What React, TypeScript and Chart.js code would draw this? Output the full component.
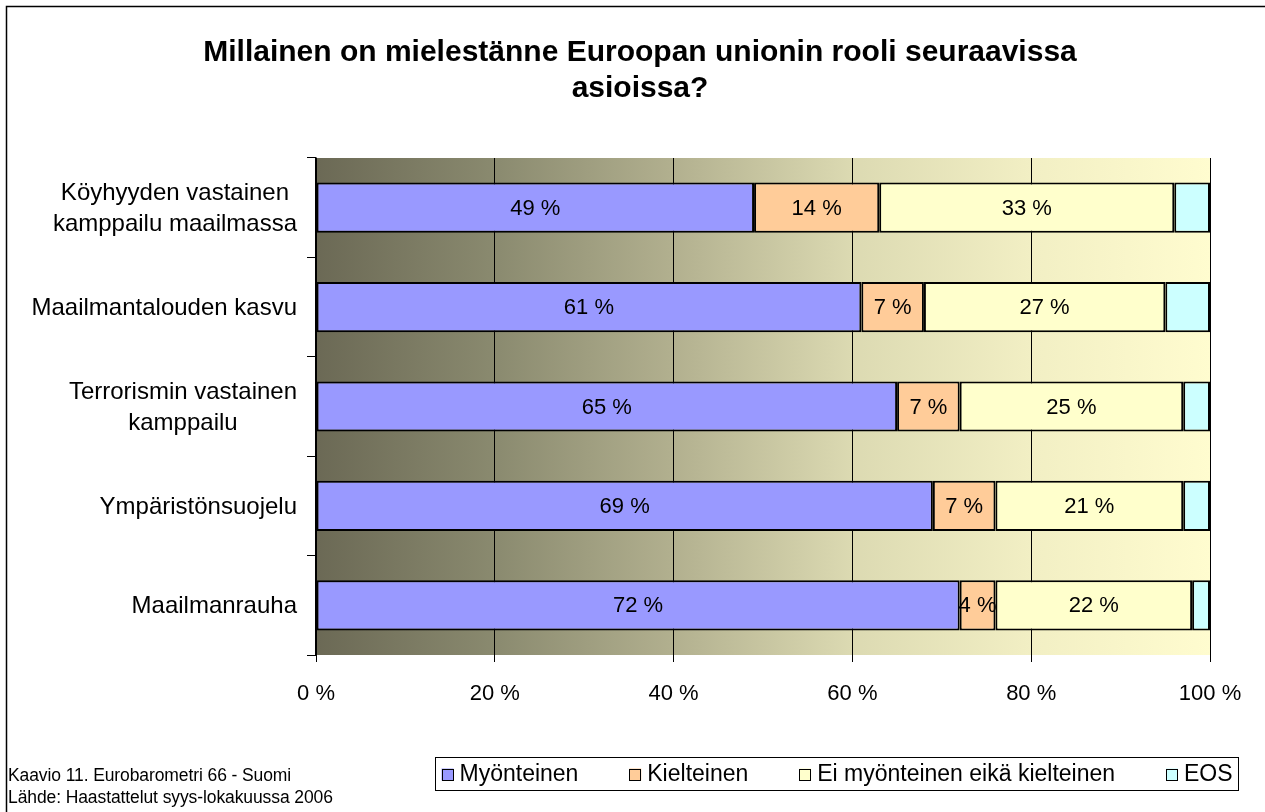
import React, { useEffect, useRef } from 'react';
import { Chart, registerables } from 'chart.js';

Chart.register(...registerables);

const categories: (string | string[])[] = [
  ['Köyhyyden vastainen', 'kamppailu maailmassa'],
  'Maailmantalouden kasvu',
  ['Terrorismin vastainen', 'kamppailu'],
  'Ympäristönsuojelu',
  'Maailmanrauha',
];
const seriesNames = ['Myönteinen', 'Kielteinen', 'Ei myönteinen eikä kielteinen', 'EOS'];
const positive = [49, 61, 65, 69, 72];
const negative = [14, 7, 7, 7, 4];
const neutral = [33, 27, 25, 21, 22];
const dontKnow = [4, 5, 3, 3, 2];
const seriesColors = ['#9999ff', '#ffcc99', '#ffffcc', '#ccffff'];
const titleLines = ['Millainen on mielestänne Euroopan unionin rooli seuraavissa', 'asioissa?'];
const footnotes = ['Kaavio 11. Eurobarometri 66 - Suomi', 'Lähde: Haastattelut syys-lokakuussa 2006'];

const FONT = '"Liberation Sans", Arial, sans-serif';

const bgPlugin = {
  id: 'bgPlugin',
  beforeDraw(chart: any) {
    const { ctx, chartArea: a } = chart;
    ctx.save();
    ctx.fillStyle = '#ffffff';
    ctx.fillRect(0, 0, chart.width, chart.height);
    const g = ctx.createLinearGradient(a.left, 0, a.right, 0);
    g.addColorStop(0, '#6b6955');
    g.addColorStop(0.2, '#8a8a6f');
    g.addColorStop(0.4, '#b2b08f');
    g.addColorStop(0.6, '#dcdab2');
    g.addColorStop(0.8, '#f2efc4');
    g.addColorStop(1, '#fffccf');
    ctx.fillStyle = g;
    ctx.fillRect(a.left, a.top, a.right - a.left, a.bottom - a.top);
    ctx.restore();
  },
};

const decorPlugin = {
  id: 'decorPlugin',
  afterDatasetsDraw(chart: any) {
    const { ctx } = chart;
    ctx.save();
    ctx.font = `22px ${FONT}`;
    ctx.fillStyle = '#000';
    ctx.textAlign = 'center';
    ctx.textBaseline = 'middle';
    for (let d = 0; d < 3; d++) {
      const meta = chart.getDatasetMeta(d);
      const data = chart.data.datasets[d].data;
      meta.data.forEach((el: any, i: number) => {
        const p = el.getProps(['x', 'y', 'base'], true);
        ctx.fillText(`${data[i]} %`, (p.x + p.base) / 2, p.y + 1);
      });
    }
    ctx.restore();
  },
  afterDraw(chart: any) {
    const { ctx } = chart;
    ctx.save();
    // outer border
    ctx.strokeStyle = '#000';
    ctx.lineWidth = 1.5;
    ctx.strokeRect(6.5, 6.5, 1400, 1000);
    // title
    ctx.fillStyle = '#000';
    ctx.font = `bold 30px ${FONT}`;
    ctx.textAlign = 'center';
    ctx.textBaseline = 'alphabetic';
    ctx.fillText(titleLines[0], 640, 61);
    ctx.fillText(titleLines[1], 640, 97);
    // category labels (centered lines, right edge at axis)
    const yScale = chart.scales.y;
    ctx.font = `24px ${FONT}`;
    ctx.textBaseline = 'middle';
    ctx.textAlign = 'center';
    chart.data.labels.forEach((lab: any, i: number) => {
      const lines = Array.isArray(lab) ? lab : [lab];
      const w = Math.max(...lines.map((s: string) => ctx.measureText(s).width));
      const cx = 297 - w / 2;
      const cy = yScale.getPixelForValue(i);
      const lh = 31;
      lines.forEach((s: string, k: number) => {
        ctx.fillText(s, cx, cy + 1 + (k - (lines.length - 1) / 2) * lh);
      });
    });
    // footnotes
    ctx.textAlign = 'left';
    ctx.textBaseline = 'alphabetic';
    ctx.font = `17.5px ${FONT}`;
    (ctx as any).letterSpacing = '-0.1px';
    ctx.fillText(footnotes[0], 8, 781);
    ctx.fillText(footnotes[1], 8, 803);
    (ctx as any).letterSpacing = '0px';
    // legend
    const box = { l: 435.5, t: 757.5, r: 1238.5, b: 790.5 };
    ctx.fillStyle = '#fff';
    ctx.fillRect(box.l, box.t, box.r - box.l, box.b - box.t);
    ctx.lineWidth = 1;
    ctx.strokeStyle = '#000';
    ctx.strokeRect(box.l, box.t, box.r - box.l, box.b - box.t);
    ctx.font = `23px ${FONT}`;
    ctx.textBaseline = 'middle';
    const cy = (box.t + box.b) / 2;
    const ds = chart.data.datasets;
    const mk = 12, mg = 6, margin = 6;
    const widths = ds.map((d: any) => ctx.measureText(d.label).width);
    const used = widths.reduce((a: number, b: number) => a + b, 0) + ds.length * (mk + mg);
    const gap = (box.r - box.l - 2 * margin - used) / (ds.length - 1);
    let x = box.l + margin;
    ds.forEach((d: any, i: number) => {
      ctx.fillStyle = d.backgroundColor;
      ctx.fillRect(x, cy - 5.5, mk, mk);
      ctx.strokeStyle = '#000';
      ctx.strokeRect(Math.round(x) + 0.5, Math.round(cy - 5.5) + 0.5, mk - 1, mk - 1);
      ctx.fillStyle = '#000';
      ctx.textAlign = 'left';
      ctx.fillText(d.label, x + mk + mg, cy + 1);
      x += mk + mg + widths[i] + gap;
    });
    ctx.restore();
  },
};

export default function App() {
  const ref = useRef<HTMLCanvasElement>(null);
  useEffect(() => {
    if (!ref.current) return;
    const values = [positive, negative, neutral, dontKnow];
    const chart = new Chart(ref.current, {
      type: 'bar',
      data: {
        labels: categories,
        datasets: values.map((v, i) => ({
          label: seriesNames[i],
          data: v,
          backgroundColor: seriesColors[i],
          borderColor: '#000',
          borderWidth: 2,
          borderSkipped: false,
          barPercentage: 1,
          categoryPercentage: 0.505,
        })),
      },
      options: {
        indexAxis: 'y',
        responsive: false,
        animation: false,
        devicePixelRatio: 1,
        layout: { padding: { top: 158, right: 55, bottom: 97, left: 0 } },
        plugins: { legend: { display: false }, title: { display: false }, tooltip: { enabled: false } },
        scales: {
          x: {
            stacked: true,
            min: 0,
            max: 100,
            ticks: {
              stepSize: 20,
              color: '#000',
              font: { family: FONT, size: 22 },
              padding: 19,
              callback: (v: any) => `${v} %`,
            },
            grid: { color: '#000', lineWidth: 1, tickLength: 7, drawOnChartArea: true },
            border: { display: false },
            afterFit: (s: any) => { s.height = 60; },
          },
          y: {
            stacked: true,
            ticks: { display: false },
            grid: { color: '#000', lineWidth: 1, tickLength: 9, drawOnChartArea: false, offset: true },
            border: { display: true, color: '#000', width: 1.5 },
            afterFit: (s: any) => { s.width = 316; },
          },
        },
      },
      plugins: [bgPlugin, decorPlugin],
    });
    return () => chart.destroy();
  }, []);
  return (
    <div style={{ position: 'absolute', left: 0, top: 0, width: 1265, height: 812 }}>
      <canvas ref={ref} width={1265} height={812} style={{ width: 1265, height: 812, display: 'block' }} />
    </div>
  );
}
